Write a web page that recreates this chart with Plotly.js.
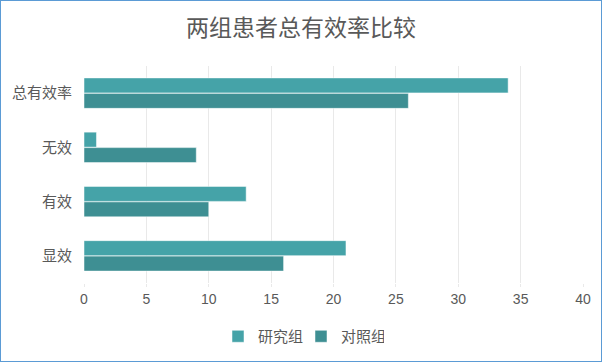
<!DOCTYPE html>
<html><head><meta charset="utf-8">
<script src="https://cdn.plot.ly/plotly-3.0.1.min.js"></script>
<style>
html,body{margin:0;padding:0;background:#fff;}
#chart{position:absolute;left:0;top:0;width:600px;height:360px;border:1px solid #5B9BD5;}
</style></head>
<body><div id="chart"></div>
<script>
const categories = ["显效", "有效", "无效", "总有效率"];
const studyGroup = [21, 13, 1, 34];
const controlGroup = [16, 10, 9, 26];
const seriesNames = ["研究组", "对照组"];
const xTicks = [0, 5, 10, 15, 20, 25, 30, 35, 40];

const font = '"Liberation Sans", "Noto Sans CJK SC", sans-serif';
const traces = [
  {type: 'bar', orientation: 'h', name: seriesNames[1], y: categories, x: controlGroup,
   marker: {color: '#3E8F93', line: {color: '#ffffff', width: 0.5}}, hoverinfo: 'x'},
  {type: 'bar', orientation: 'h', name: seriesNames[0], y: categories, x: studyGroup,
   marker: {color: '#45A3A8', line: {color: '#ffffff', width: 0.5}}, hoverinfo: 'x'}
];
const layout = {
  width: 600, height: 360,
  margin: {l: 83, r: 18, t: 65, b: 78, autoexpand: false},
  paper_bgcolor: '#ffffff', plot_bgcolor: '#ffffff',
  font: {family: font, color: '#595959', size: 14},
  title: {text: '两组患者总有效率比较', x: 0.5, xanchor: 'center', y: 0.925, yanchor: 'middle',
          font: {family: font, size: 23, color: '#595959'}},
  barmode: 'group', bargap: 0.43, bargroupgap: 0.03,
  xaxis: {range: [0, 40], tickvals: xTicks, ticktext: xTicks.map(String), showgrid: true,
          gridcolor: '#E9E9E9', gridwidth: 1, zeroline: false, showline: false,
          ticks: 'outside', ticklen: 3, tickcolor: '#E9E9E9', ticklabelstandoff: 0,
          tickfont: {size: 14, color: '#595959'}, fixedrange: true},
  yaxis: {type: 'category', categoryorder: 'array', categoryarray: categories,
          showgrid: false, zeroline: false, showline: false, ticks: 'outside', ticklen: 8,
          tickcolor: '#ffffff', tickfont: {size: 15, color: '#595959'}, fixedrange: true},
  showlegend: true,
  legend: {orientation: 'h', xref: 'container', yref: 'container', x: 0.5, xanchor: 'center',
           y: 0.068, yanchor: 'middle',
           traceorder: 'reversed', font: {size: 15, color: '#595959'},
           itemwidth: 30, entrywidth: 38, entrywidthmode: 'pixels', bgcolor: 'rgba(0,0,0,0)'}
};
Plotly.newPlot('chart', traces, layout, {displayModeBar: false, staticPlot: true});
</script></body></html>
